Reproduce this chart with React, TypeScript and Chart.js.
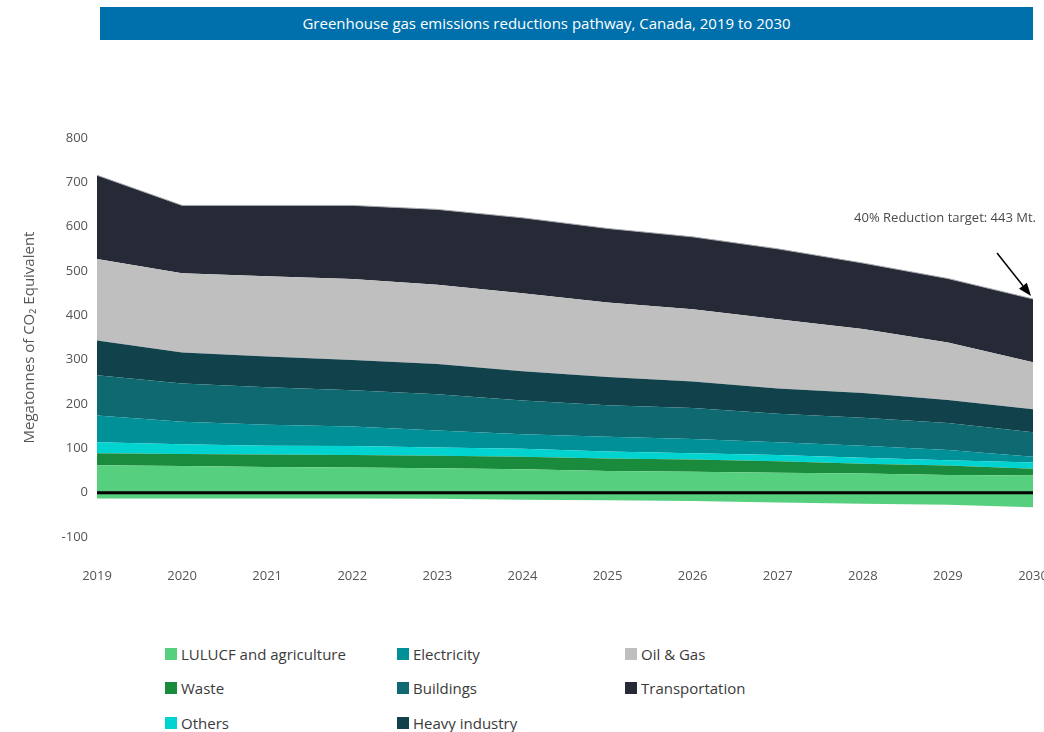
import React, { useEffect, useRef } from "react";
import { Chart, registerables } from "chart.js";

Chart.register(...registerables);

const years = ["2019", "2020", "2021", "2022", "2023", "2024", "2025", "2026", "2027", "2028", "2029", "2030"];
const lulucfAgriculture = [62, 60, 58, 57, 55, 53, 49, 47, 45, 43, 40, 39];
const lulucfSink = [-13, -13, -13, -13, -14, -16, -17, -19, -22, -25, -27, -33];
const waste = [27, 27, 28, 28, 28, 28, 28, 28, 26, 22, 21, 15];
const others = [25, 22, 20, 20, 19, 18, 16, 14, 14, 14, 12, 14];
const electricity = [60, 51, 47, 44, 38, 33, 33, 32, 29, 27, 23, 13];
const buildings = [91, 86, 85, 82, 82, 76, 71, 70, 64, 63, 61, 55];
const heavyIndustry = [78, 70, 69, 68, 68, 66, 64, 60, 57, 56, 52, 52];
const oilGas = [184, 179, 181, 183, 179, 176, 168, 163, 156, 144, 130, 106];
const transportation = [189, 153, 160, 166, 170, 170, 167, 163, 159, 149, 144, 143];

const yMin = -100;
const yMax = 800;
const yStep = 100;

const titleText = "Greenhouse gas emissions reductions pathway, Canada, 2019 to 2030";
const yTitle = "Megatonnes of CO\u2082 Equivalent";
const annotationText = "40% Reduction target: 443 Mt.";

const COLORS = {
  lulucf: "#56CF7F",
  waste: "#1A8A3D",
  others: "#00D3D0",
  electricity: "#009097",
  buildings: "#0E6A70",
  heavy: "#11424B",
  oilGas: "#BFBFBF",
  transport: "#262A36",
};

const legendColumns = [
  [
    { label: "LULUCF and agriculture", color: COLORS.lulucf },
    { label: "Waste", color: COLORS.waste },
    { label: "Others", color: COLORS.others },
  ],
  [
    { label: "Electricity", color: COLORS.electricity },
    { label: "Buildings", color: COLORS.buildings },
    { label: "Heavy industry", color: COLORS.heavy },
  ],
  [
    { label: "Oil & Gas", color: COLORS.oilGas },
    { label: "Transportation", color: COLORS.transport },
  ],
];
const legendColumnX = [165, 397, 625];
const legendRowY = [654, 688, 723];

const FONT = '"Open Sans", "DejaVu Sans", sans-serif';

const overlayPlugin = {
  id: "overlay",
  afterDatasetsDraw(chart: any) {
    const { ctx, chartArea, scales } = chart;
    const x = scales.x;
    const y = scales.y;
    ctx.save();
    // zero line
    const y0 = y.getPixelForValue(0);
    ctx.strokeStyle = "#000";
    ctx.lineWidth = 3;
    ctx.beginPath();
    ctx.moveTo(chartArea.left, y0);
    ctx.lineTo(chartArea.right, y0);
    ctx.stroke();

    // arrow to 2030 total
    const last = years.length - 1;
    const total =
      lulucfAgriculture[last] + waste[last] + others[last] + electricity[last] +
      buildings[last] + heavyIndustry[last] + oilGas[last] + transportation[last];
    const tx = x.getPixelForValue(last) - 2;
    const ty = y.getPixelForValue(total) - 3;
    const sx = tx - 34;
    const sy = ty - 43;
    const ang = Math.atan2(ty - sy, tx - sx);
    const headLen = 13;
    const headW = 5;
    const bx = tx - headLen * Math.cos(ang);
    const by = ty - headLen * Math.sin(ang);
    ctx.strokeStyle = "#000";
    ctx.lineWidth = 1.5;
    ctx.beginPath();
    ctx.moveTo(sx, sy);
    ctx.lineTo(bx, by);
    ctx.stroke();
    ctx.fillStyle = "#000";
    ctx.beginPath();
    ctx.moveTo(tx, ty);
    ctx.lineTo(bx + headW * Math.sin(ang), by - headW * Math.cos(ang));
    ctx.lineTo(bx - headW * Math.sin(ang), by + headW * Math.cos(ang));
    ctx.closePath();
    ctx.fill();

    ctx.font = `13px ${FONT}`;
    ctx.fillStyle = "#4a4a4a";
    ctx.textAlign = "right";
    ctx.textBaseline = "middle";
    ctx.fillText(annotationText, tx + 5, sy - 35);
    ctx.restore();
  },
};

export default function App() {
  const canvasRef = useRef<HTMLCanvasElement | null>(null);

  useEffect(() => {
    const canvas = canvasRef.current;
    if (!canvas) return;
    const area = (label: string, data: number[], color: string, fill: any, extra: any = {}) => ({
      label,
      data,
      backgroundColor: color,
      borderColor: color,
      borderWidth: 0,
      pointRadius: 0,
      pointHoverRadius: 0,
      tension: 0,
      fill,
      ...extra,
    });
    const chart = new Chart(canvas, {
      type: "line",
      data: {
        labels: years,
        datasets: [
          area("LULUCF and agriculture", lulucfAgriculture, COLORS.lulucf, "origin"),
          area("Waste", waste, COLORS.waste, "-1"),
          area("Others", others, COLORS.others, "-1"),
          area("Electricity", electricity, COLORS.electricity, "-1"),
          area("Buildings", buildings, COLORS.buildings, "-1"),
          area("Heavy industry", heavyIndustry, COLORS.heavy, "-1"),
          area("Oil & Gas", oilGas, COLORS.oilGas, "-1"),
          area("Transportation", transportation, COLORS.transport, "-1", {
            borderWidth: 1,
            borderColor: "#a9abb0",
          }),
          area("LULUCF sink", lulucfSink, COLORS.lulucf, "origin"),
        ],
      },
      options: {
        responsive: false,
        animation: false,
        layout: { padding: { top: 38, left: 0, right: 27, bottom: 0 } },
        plugins: {
          legend: { display: false },
          tooltip: { enabled: false },
          title: { display: false },
        },
        scales: {
          x: {
            type: "category",
            offset: false,
            grid: { display: false, drawTicks: false },
            border: { display: false },
            ticks: {
              color: "#555",
              font: { family: FONT, size: 13 },
              padding: 31,
              maxRotation: 0,
              autoSkip: false,
            },
            afterFit: (s: any) => {
              s.height = 63;
              s.paddingLeft = 0;
              s.paddingRight = 0;
            },
          },
          y: {
            stacked: true,
            min: yMin,
            max: yMax,
            grid: { display: false, drawTicks: false },
            border: { display: false },
            ticks: {
              stepSize: yStep,
              color: "#555",
              font: { family: FONT, size: 13 },
              padding: 9,
            },
            title: {
              display: true,
              text: yTitle,
              color: "#555",
              font: { family: FONT, size: 15, weight: "normal" },
              padding: { top: 21, bottom: 0 },
            },
            afterFit: (s: any) => {
              s.width = 97;
            },
          },
        },
      },
      plugins: [overlayPlugin],
    } as any);
    return () => chart.destroy();
  }, []);

  return (
    <div
      style={{
        position: "fixed",
        left: 0,
        top: 0,
        width: 1044,
        height: 732,
        overflow: "hidden",
        background: "#fff",
        fontFamily: FONT,
      }}
    >
      <div
        style={{
          position: "absolute",
          left: 100,
          top: 7,
          width: 933,
          height: 33,
          boxSizing: "border-box",
          paddingRight: 40,
          background: "#0070AD",
          color: "#fff",
          fontSize: 15,
          lineHeight: "33px",
          textAlign: "center",
          whiteSpace: "nowrap",
        }}
      >
        {titleText}
      </div>
      <canvas
        ref={canvasRef}
        width={1060}
        height={500}
        style={{ position: "absolute", left: 0, top: 100, width: 1060, height: 500 }}
      />
      {legendColumns.map((col, ci) =>
        col.map((item, ri) => (
          <div
            key={item.label}
            style={{
              position: "absolute",
              left: legendColumnX[ci],
              top: legendRowY[ri] - 11,
              height: 22,
              display: "flex",
              alignItems: "center",
              whiteSpace: "nowrap",
              fontSize: 15,
              color: "#3a3a3a",
            }}
          >
            <span
              style={{
                display: "inline-block",
                width: 12,
                height: 12,
                background: item.color,
                marginRight: 4,
              }}
            />
            <span>{item.label}</span>
          </div>
        ))
      )}
    </div>
  );
}
